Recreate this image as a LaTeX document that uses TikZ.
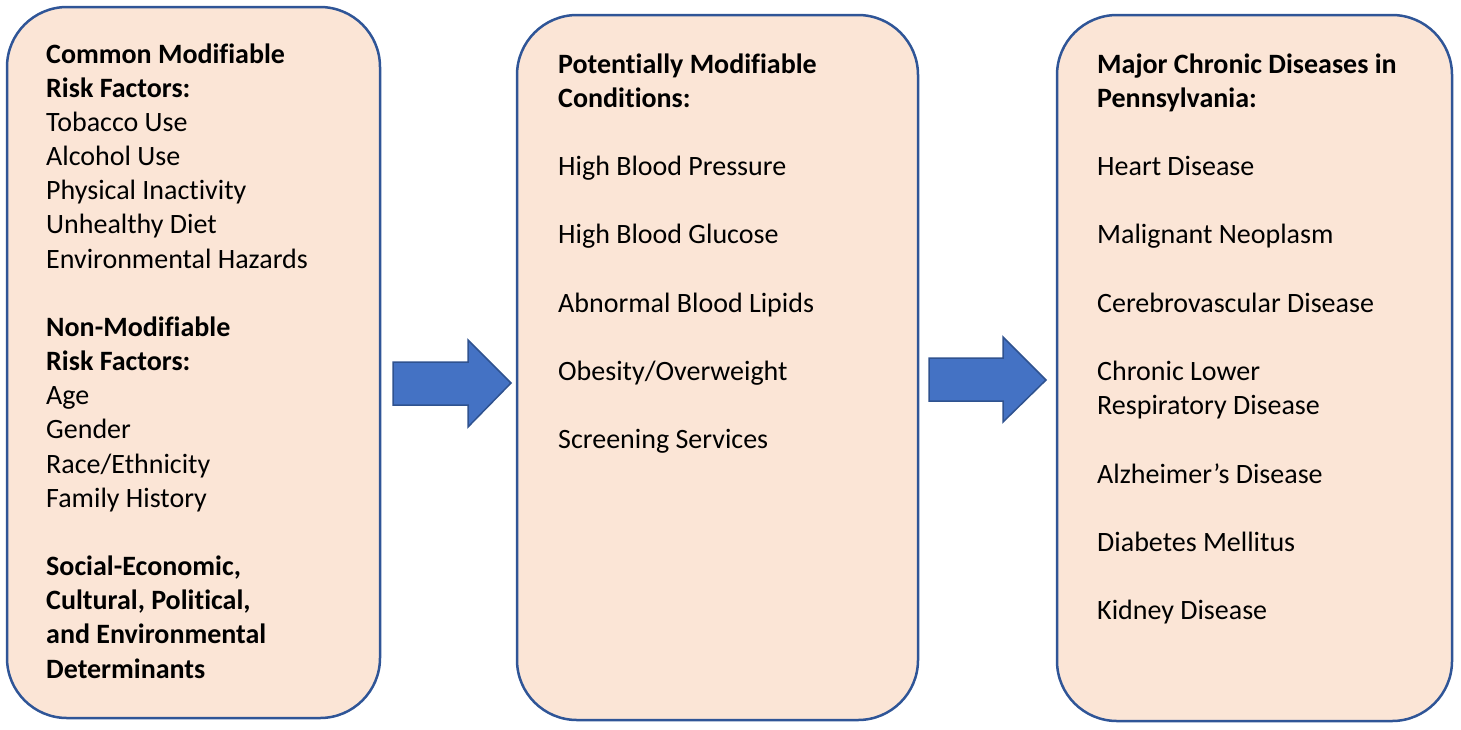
\documentclass[tikz,border=0pt]{standalone}
\usepackage{fontspec}
\setmainfont{Carlito}[Ligatures=NoCommon]
\usetikzlibrary{calc}
\definecolor{boxfill}{HTML}{FBE5D6}
\definecolor{boxline}{RGB}{47,85,151}
\definecolor{arrfill}{HTML}{4472C4}
\definecolor{arrline}{HTML}{2F528F}
\begin{document}
\begin{tikzpicture}[x=1pt,y=-1pt,
  box/.style={draw=boxline,fill=boxfill,line width=2.5pt,rounded corners=60pt,inner sep=0pt},
  txt/.style={anchor=base west,inner sep=0pt,font=\fontsize{28}{34}\selectfont},
  hd/.style={txt,font=\fontsize{28}{34}\selectfont\bfseries},
  blockarrow/.style={draw=arrline,fill=arrfill,line width=1.5pt,line join=miter}]
\useasboundingbox (0,0) rectangle (1461,729);
% boxes
\draw[box] (7,7) rectangle (380,718);
\draw[box] (517,15) rectangle (918,720);
\draw[box] (1057,15) rectangle (1452,721);
\coordinate (b1) at (46,63);
\coordinate (b2) at (558,73);
\coordinate (b3) at (1097,73);
\def\ls{34.17}
% box 1
\node[hd]  (a0)  at ($(b1)+(0,0*\ls)$) {Common Modifiable};
\node[hd]  (a1)  at ($(b1)+(0,1*\ls)$) {Risk Factors:};
\node[txt] (a2)  at ($(b1)+(0,2*\ls)$) {Tobacco Use};
\node[txt] (a3)  at ($(b1)+(0,3*\ls)$) {Alcohol Use};
\node[txt] (a4)  at ($(b1)+(0,4*\ls)$) {Physical Inactivity};
\node[txt] (a5)  at ($(b1)+(0,5*\ls)$) {Unhealthy Diet};
\node[txt] (a6)  at ($(b1)+(0,6*\ls)$) {Environmental Hazards};
\node[hd]  (a8)  at ($(b1)+(0,8*\ls)$) {Non-Modifiable};
\node[hd]  (a9)  at ($(b1)+(0,9*\ls)$) {Risk Factors:};
\node[txt] (a10) at ($(b1)+(0,10*\ls)$) {Age};
\node[txt] (a11) at ($(b1)+(0,11*\ls)$) {Gender};
\node[txt] (a12) at ($(b1)+(0,12*\ls)$) {Race/Ethnicity};
\node[txt] (a13) at ($(b1)+(0,13*\ls)$) {Family History};
\node[hd]  (a15) at ($(b1)+(0,15*\ls)$) {Social-Economic,};
\node[hd]  (a16) at ($(b1)+(0,16*\ls)$) {Cultural, Political,};
\node[hd]  (a17) at ($(b1)+(0,17*\ls)$) {and Environmental};
\node[hd]  (a18) at ($(b1)+(0,18*\ls)$) {Determinants};
% box 2
\node[hd]  (p0)  at ($(b2)+(0,0*\ls)$) {Potentially Modifiable};
\node[hd]  (p1)  at ($(b2)+(0,1*\ls)$) {Conditions:};
\node[txt] (p3)  at ($(b2)+(0,3*\ls)$) {High Blood Pressure};
\node[txt] (p5)  at ($(b2)+(0,5*\ls)$) {High Blood Glucose};
\node[txt] (p7)  at ($(b2)+(0,7*\ls)$) {Abnormal Blood Lipids};
\node[txt] (p9)  at ($(b2)+(0,9*\ls)$) {Obesity/Overweight};
\node[txt] (p11) at ($(b2)+(0,11*\ls)$) {Screening Services};
% box 3
\node[hd]  (m0)  at ($(b3)+(0,0*\ls)$) {Major Chronic Diseases in};
\node[hd]  (m1)  at ($(b3)+(0,1*\ls)$) {Pennsylvania:};
\node[txt] (m3)  at ($(b3)+(0,3*\ls)$) {Heart Disease};
\node[txt] (m5)  at ($(b3)+(0,5*\ls)$) {Malignant Neoplasm};
\node[txt] (m7)  at ($(b3)+(0,7*\ls)$) {Cerebrovascular Disease};
\node[txt] (m9)  at ($(b3)+(0,9*\ls)$) {Chronic Lower};
\node[txt] (m10) at ($(b3)+(0,10*\ls)$) {Respiratory Disease};
\node[txt] (m12) at ($(b3)+(0,12*\ls)$) {Alzheimer’s Disease};
\node[txt] (m14) at ($(b3)+(0,14*\ls)$) {Diabetes Mellitus};
\node[txt] (m16) at ($(b3)+(0,16*\ls)$) {Kidney Disease};
% block arrows
\draw[blockarrow] (393,362) -- (468,362) -- (468,340) -- (511,383) -- (468,427) -- (468,405) -- (393,405) -- cycle;
\draw[blockarrow] (929,358) -- (1003,358) -- (1003,337) -- (1046,380) -- (1003,422) -- (1003,401) -- (929,401) -- cycle;
\end{tikzpicture}
\end{document}
